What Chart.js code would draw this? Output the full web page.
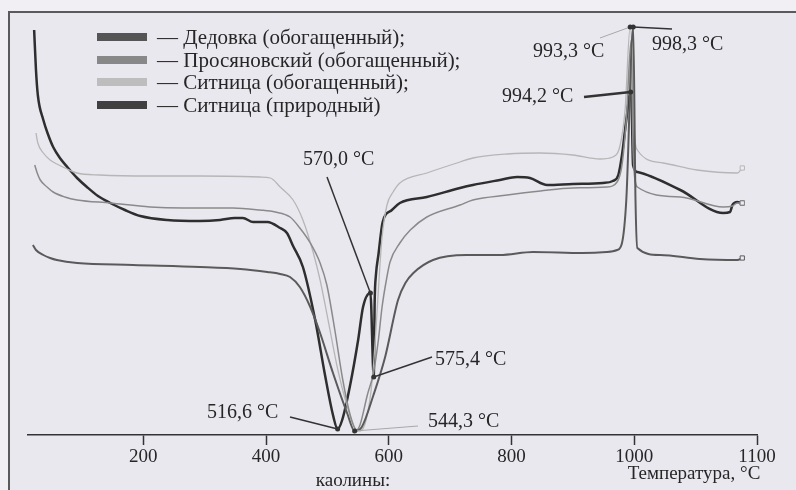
<!DOCTYPE html>
<html>
<head>
<meta charset="utf-8">
<script src="https://cdn.jsdelivr.net/npm/chart.js@4.4.1/dist/chart.umd.min.js"></script>
<style>
  html, body { margin: 0; padding: 0; background: #eeecf2; }
  #wrap { width: 796px; height: 490px; }
</style>
</head>
<body>
<div id="wrap"><canvas id="dta" width="796" height="490"></canvas></div>
<script>
// x ticks (the last tick is printed "1100" in the original)
const tickValues = [200, 400, 600, 800, 1000, 1200];
const tickLabels = ['200', '400', '600', '800', '1000', '1100'];

const seriesNames = [
  'Дедовка (обогащенный);',
  'Просяновский (обогащенный);',
  'Ситница (обогащенный);',
  'Ситница (природный)'
];

// Дедовка (обогащенный)
const dedTemp = [20, 25, 37, 48, 59, 92, 183, 292, 358, 402, 423, 439, 455, 472, 488, 509, 532, 544.3, 556, 575, 594, 615, 627, 640, 672, 727, 781, 835, 916, 955, 972, 980, 987, 998.3, 1002, 1005, 1042, 1107, 1168, 1176];
const dedSignal = [47.5, 46.25, 45, 44.25, 43.75, 43, 42.5, 42, 41.5, 40.75, 40.25, 39.5, 37, 32, 25.5, 15.5, 5.5, 1, 2, 10, 19.5, 33.75, 38, 40.5, 43.75, 45, 45, 45.75, 45.5, 45.75, 46.25, 48, 58.75, 102, 58.75, 46.75, 45, 44, 43.75, 44.25];

// Просяновский (обогащенный)
const prosTemp = [23, 27, 32, 43, 53, 72, 92, 146, 211, 265, 346, 390, 415, 439, 455, 472, 488, 499, 512, 525, 537, 547, 553, 565, 575, 583, 589, 596, 602, 618, 635, 662, 716, 737, 793, 847, 900, 955, 972, 980, 987, 995, 998, 1005, 1075, 1145, 1160, 1168, 1176];
const prosSignal = [67.5, 65.5, 63.75, 62, 60.75, 59.5, 58.75, 58, 57, 56.75, 56.75, 56.25, 55.75, 54.5, 51.75, 48, 43, 37.5, 26.25, 13.75, 5, 1.25, 2.5, 10, 15.5, 23.75, 32, 38.75, 43.25, 48, 51.25, 54.5, 57.5, 58.75, 60, 61, 61.75, 62, 63.25, 67.5, 78.75, 98.75, 71.25, 62, 59.5, 57, 57.25, 58, 58];

// Ситница (обогащенный)
const sitETemp = [25, 28, 37, 48, 59, 76, 92, 129, 211, 292, 390, 407, 423, 444, 460, 477, 488, 501, 517, 534, 545, 553, 563, 573, 579, 584, 589, 597, 607, 618, 662, 716, 737, 793, 847, 900, 944, 965, 977, 985, 993.3, 997, 1000, 1005, 1047, 1102, 1168, 1176];
const sitESignal = [75.5, 73, 70.5, 68.75, 67.75, 66.5, 65.5, 65, 64.75, 64.75, 64.5, 64.25, 62, 58.75, 53.75, 45.5, 38.75, 28.75, 16.25, 6.25, 1.75, 1, 3.75, 13.75, 26.25, 38.75, 49.5, 57.5, 60.75, 63, 65.5, 68.25, 69.25, 70.25, 70.5, 70, 69, 69.5, 72.5, 81.25, 102, 93.75, 76.25, 71.25, 68, 66.25, 65.5, 66.75];

// Ситница (природный)
const sitNTemp = [22, 25, 28, 37, 45, 53, 64, 76, 92, 108, 126, 146, 170, 195, 239, 292, 325, 349, 362, 379, 402, 423, 434, 444, 460, 480, 496, 509, 516.6, 524, 537, 550, 558, 570, 575.4, 577, 579, 583, 590, 605, 618, 662, 716, 737, 781, 809, 830, 858, 900, 949, 965, 974, 980, 987, 994.2, 996, 998, 1005, 1075, 1145, 1156, 1160, 1168, 1176];
const sitNSignal = [101.25, 91.25, 85, 78.75, 75, 72, 69.25, 67, 64.25, 62, 59.75, 58, 56.25, 54.75, 53.75, 53.5, 53.75, 54.25, 54.25, 53.25, 53.25, 51.75, 50.5, 47.25, 42, 28.75, 15, 5, 1.5, 3.75, 12.5, 23.75, 32, 35.5, 14.5, 33.75, 40, 45, 53.25, 56.25, 58, 59.5, 61.75, 62.5, 63.75, 64.5, 64.25, 62.5, 62.75, 63, 63.5, 65, 70, 78.75, 85.75, 81, 67.5, 65.75, 61.25, 55.5, 55.75, 57.5, 58.25, 58];

const lineColors = ['#5a5a5a', '#8a8a8a', '#b6b6b6', '#2e2e2e'];
const lineWidths = [2, 1.5, 1.3, 2.5];
const swatchColors = ['#555555', '#888888', '#bdbdbd', '#404040'];

// peak labels: [text, temperature, signal, text x, text y, leader start x, leader start y, style]
const peakLabels = [
  ['570,0 °C', 570, 35.5, 303, 160, 327, 177, 'dark'],
  ['575,4 °C', 575.4, 14.5, 435, 360, 432, 357, 'dark'],
  ['516,6 °C', 516.6, 1.5, 207, 413, 290, 417, 'dark'],
  ['544,3 °C', 544.3, 1, 428, 422, 418, 426, 'light'],
  ['993,3 °C', 993.3, 102, 533, 52, 600, 38, 'light'],
  ['998,3 °C', 998.3, 102, 652, 45, 672, 29, 'dark'],
  ['994,2 °C', 994.2, 85.75, 502, 97, 584, 97, 'thick']
];

const serif = '"Liberation Serif", "Times New Roman", serif';

function toPoints(xs, ys) {
  return xs.map((x, i) => ({ x: x, y: ys[i] }));
}

const allTemps = [dedTemp, prosTemp, sitETemp, sitNTemp];
const allSignals = [dedSignal, prosSignal, sitESignal, sitNSignal];

const datasets = seriesNames.map((name, i) => {
  const n = allTemps[i].length;
  return {
    label: name,
    data: toPoints(allTemps[i], allSignals[i]),
    borderColor: lineColors[i],
    backgroundColor: '#eeecf2',
    borderWidth: lineWidths[i],
    cubicInterpolationMode: 'monotone',
    pointStyle: 'rect',
    pointRadius: (ctx) => ctx.dataIndex === n - 1 ? 3 : 0,
    pointBorderWidth: 1,
    pointBorderColor: lineColors[i],
    fill: false
  };
});

const paperPlugin = {
  id: 'paper',
  beforeDraw(chart) {
    const c = chart.ctx;
    c.save();
    c.fillStyle = '#f1eff4';
    c.fillRect(0, 0, chart.width, chart.height);
    c.fillStyle = '#eae8ef';
    c.fillRect(9, 12, chart.width - 9, chart.height - 12);
    c.strokeStyle = '#5a5a5a';
    c.lineWidth = 2;
    c.beginPath();
    c.moveTo(9, chart.height);
    c.lineTo(9, 12);
    c.lineTo(chart.width, 12);
    c.stroke();
    c.restore();
  },
  afterDraw(chart) {
    const c = chart.ctx;
    const xs = chart.scales.x;
    const ys = chart.scales.y;
    c.save();

    // legend
    c.font = '21px ' + serif;
    c.textBaseline = 'middle';
    const rows = [37, 60, 82, 105];
    seriesNames.forEach((name, i) => {
      c.fillStyle = swatchColors[i];
      c.fillRect(97, rows[i] - 4, 50, 8);
      c.fillStyle = '#262626';
      c.fillText('— ' + name, 157, rows[i] + 1);
    });

    // peak labels and leaders
    c.font = '20px ' + serif;
    peakLabels.forEach((p) => {
      const px = xs.getPixelForValue(p[1]);
      const py = ys.getPixelForValue(p[2]);
      if (p[7] === 'light') {
        c.strokeStyle = '#a8a8a8';
        c.lineWidth = 1;
      } else if (p[7] === 'thick') {
        c.strokeStyle = '#333';
        c.lineWidth = 2.5;
      } else {
        c.strokeStyle = '#333';
        c.lineWidth = 1.5;
      }
      c.beginPath();
      c.moveTo(p[5], p[6]);
      c.lineTo(px, py);
      c.stroke();
      c.fillStyle = '#333';
      c.beginPath();
      c.arc(px, py, 2.5, 0, Math.PI * 2);
      c.fill();
      c.fillStyle = '#262626';
      c.fillText(p[0], p[3], p[4]);
    });

    // axis captions
    c.font = '19px ' + serif;
    c.textAlign = 'center';
    c.fillText('Температура, °C', 694, 474);
    c.fillText('каолины:', 353, 481);
    c.restore();
  }
};

const ctx = document.getElementById('dta').getContext('2d');
const dtaChart = new Chart(ctx, {
  type: 'line',
  data: { datasets: datasets },
  options: {
    responsive: false,
    animation: false,
    layout: { padding: { top: 15, left: 28, right: 39, bottom: 0 } },
    plugins: {
      legend: { display: false },
      tooltip: { enabled: false }
    },
    scales: {
      x: {
        type: 'linear',
        min: 12,
        max: 1200,
        afterBuildTicks: (scale) => {
          scale.ticks = tickValues.map((v) => ({ value: v }));
        },
        afterFit: (scale) => { scale.height = 55; },
        ticks: {
          maxRotation: 0,
          autoSkip: false,
          padding: 1,
          color: '#262626',
          font: { family: serif, size: 19 },
          callback: (value) => {
            const k = tickValues.indexOf(value);
            return k >= 0 ? tickLabels[k] : '';
          }
        },
        grid: {
          display: true,
          drawOnChartArea: false,
          drawTicks: true,
          tickLength: 10,
          tickWidth: 1.5,
          tickColor: '#333'
        },
        border: { display: true, color: '#333', width: 1.5 }
      },
      y: {
        display: false,
        min: 0,
        max: 105
      }
    }
  },
  plugins: [paperPlugin]
});
</script>
</body>
</html>
